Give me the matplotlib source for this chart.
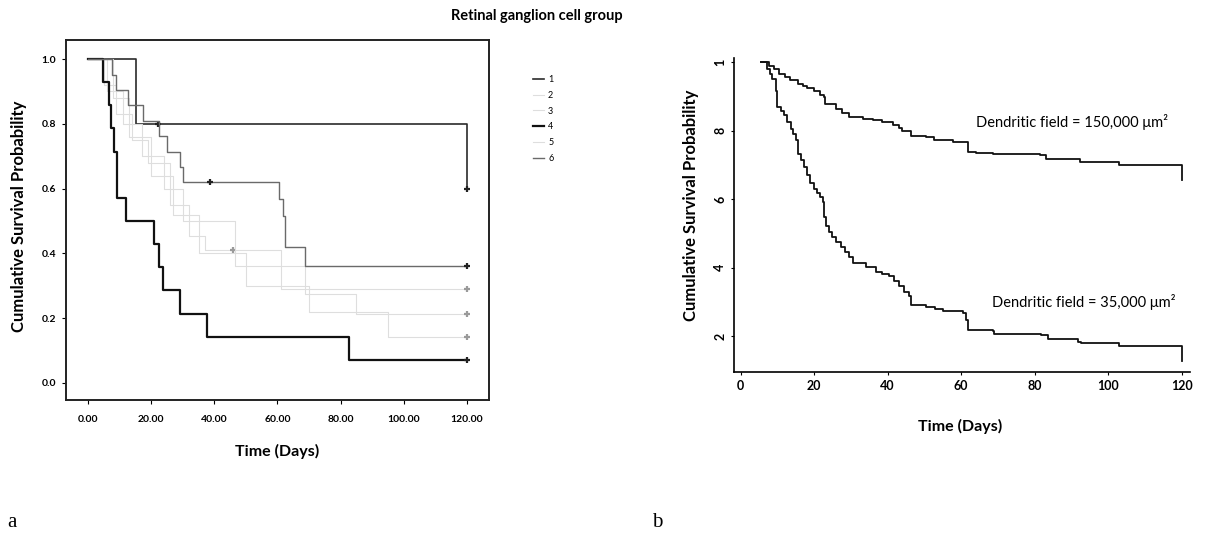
"""Kaplan-Meier survival curves: retinal ganglion cell groups (a) and dendritic field size (b)."""

import matplotlib
matplotlib.use("Agg")
from matplotlib import pyplot as plt
from matplotlib.lines import Line2D

# ---- panel a: six retinal ganglion cell groups (time in days, survival after step)
g1_t = [0, 15.3, 120]
g1_s = [1.0, 0.8, 0.6]
g1_cens_t = [22, 120]
g1_cens_s = [0.8, 0.6]

g2_t = [0, 5, 9, 14, 19, 26, 32, 37, 61, 120]
g2_s = [1.0, 0.92, 0.83, 0.75, 0.68, 0.55, 0.455, 0.41, 0.29, 0.29]
g2_cens_t = [46, 120]
g2_cens_s = [0.41, 0.29]

g3_t = [0, 6, 11, 17, 24, 30, 46.4, 68.7, 85, 120]
g3_s = [1.0, 0.9, 0.8, 0.7, 0.6, 0.5, 0.36, 0.274, 0.213, 0.213]
g3_cens_t = [120]
g3_cens_s = [0.213]

g4_t = [0, 4.7, 6.5, 7.3, 8.3, 9.3, 12, 21, 22.4, 23.7, 29, 37.7, 82.7, 120]
g4_s = [1.0, 0.929, 0.857, 0.786, 0.714, 0.571, 0.5, 0.429, 0.357, 0.286,
        0.214, 0.143, 0.071, 0.071]
g4_cens_t = [120]
g4_cens_s = [0.071]

g5_t = [0, 8, 13, 20, 27, 35, 50, 70, 95, 120]
g5_s = [1.0, 0.88, 0.76, 0.64, 0.52, 0.4, 0.3, 0.22, 0.142, 0.142]
g5_cens_t = [120]
g5_cens_s = [0.142]

g6_t = [0, 7.5, 9, 12.7, 17.5, 22.5, 25, 29, 30, 60.5, 61.8, 62.3, 68.7, 120]
g6_s = [1.0, 0.952, 0.905, 0.857, 0.81, 0.762, 0.714, 0.667, 0.619, 0.567,
        0.516, 0.42, 0.36, 0.36]
g6_cens_t = [38.7, 120]
g6_cens_s = [0.619, 0.36]

group_labels = ["1", "2", "3", "4", "5", "6"]
a_xticks = [0, 20, 40, 60, 80, 100, 120]
a_xticklabels = ["0.00", "20.00", "40.00", "60.00", "80.00", "100.00", "120.00"]
a_yticks = [0.0, 0.2, 0.4, 0.6, 0.8, 1.0]
a_yticklabels = ["0.0", "0.2", "0.4", "0.6", "0.8", "1.0"]

# ---- panel b: dendritic field size
big_t = [5.5, 7.7, 9, 10.5, 12, 13.5, 15.5, 17, 18.2, 20, 21.5, 22.7, 23, 25.9,
         27.5, 29.5, 33.2, 36, 38.6, 41.4, 43, 44, 46.4, 50.5, 52.7, 57.7, 61.8,
         64, 68.6, 81.4, 83.2, 92.3, 103, 120]
big_s = [1.0, 0.99, 0.98, 0.966, 0.957, 0.947, 0.937, 0.93, 0.925, 0.915, 0.905,
         0.898, 0.879, 0.864, 0.852, 0.84, 0.835, 0.83, 0.825, 0.816, 0.808, 0.80,
         0.783, 0.78, 0.772, 0.767, 0.738, 0.735, 0.731, 0.728, 0.716, 0.709,
         0.70, 0.655]

small_t = [5.5, 7.3, 8, 8.6, 9.5, 10, 11, 11.8, 12.7, 13.6, 14.3, 15, 15.5, 16.4,
           17.3, 18.2, 19, 20, 20.9, 21.6, 22.3, 22.7, 23.2, 24, 25, 26, 27.3,
           28.5, 29.5, 30.5, 34, 36.8, 38.5, 40.5, 41.8, 43, 44.5, 45.9, 46.4,
           50.5, 53, 55, 60.5, 61.4, 61.8, 68.6, 69, 81.8, 83.6, 91.8, 92.5, 103,
           120]
small_s = [1.0, 0.98, 0.965, 0.95, 0.917, 0.87, 0.858, 0.845, 0.825, 0.806, 0.79,
           0.772, 0.733, 0.713, 0.694, 0.67, 0.646, 0.63, 0.617, 0.605, 0.592,
           0.549, 0.52, 0.505, 0.49, 0.475, 0.461, 0.445, 0.432, 0.413, 0.403,
           0.388, 0.38, 0.374, 0.36, 0.345, 0.33, 0.316, 0.291, 0.286, 0.28,
           0.272, 0.267, 0.247, 0.218, 0.214, 0.207, 0.204, 0.19, 0.184, 0.18,
           0.17, 0.126]

b_xticks = [0, 20, 40, 60, 80, 100, 120]
b_yticks = [0.2, 0.4, 0.6, 0.8, 1.0]
b_yticklabels = ["2", "4", "6", "8", "1"]

FONT = ["Lato", "DejaVu Sans"]
FAINT = "#dedede"


def main():
    plt.rcParams["font.family"] = FONT
    fig = plt.figure(figsize=(12.06, 5.35), dpi=100)

    # ---------------- panel a
    ax = fig.add_axes([0.0547, 0.2523, 0.3507, 0.6729])
    groups = [
        (g1_t, g1_s, g1_cens_t, g1_cens_s, "#2b2b2b", 1.2),
        (g2_t, g2_s, g2_cens_t, g2_cens_s, FAINT, 0.8),
        (g3_t, g3_s, g3_cens_t, g3_cens_s, FAINT, 0.8),
        (g4_t, g4_s, g4_cens_t, g4_cens_s, "#111111", 1.6),
        (g5_t, g5_s, g5_cens_t, g5_cens_s, FAINT, 0.8),
        (g6_t, g6_s, g6_cens_t, g6_cens_s, "#6a6a6a", 1.0),
    ]
    handles = []
    for t, s, ct, cs, col, lw in groups:
        ax.step(t, s, where="post", color=col, lw=lw)
        ax.plot(ct, cs, ls="none", marker="+", ms=5, mew=1.6,
                color="#222222" if col != FAINT else "#9a9a9a")
        handles.append(Line2D([0], [0], color=col, lw=lw))

    ax.set_xlim(-7, 127)
    ax.set_ylim(-0.053, 1.059)
    ax.set_xticks(a_xticks, labels=a_xticklabels)
    ax.set_yticks(a_yticks, labels=a_yticklabels)
    ax.tick_params(labelsize=7.5, length=3, width=0.8, pad=4)
    ax.tick_params(axis="x", pad=8)
    for lab in ax.get_xticklabels() + ax.get_yticklabels():
        lab.set_fontweight("bold")
    for sp in ax.spines.values():
        sp.set_linewidth(1.4)
        sp.set_color("#222222")
    ax.set_ylabel("Cumulative Survival Probability", fontsize=12, fontweight="bold")
    ax.set_xlabel("Time (Days)", fontsize=11.5, fontweight="bold")
    ax.yaxis.set_label_coords(-0.092, 0.51)
    ax.xaxis.set_label_coords(0.5, -0.122)

    fig.text(0.445, 0.97, "Retinal ganglion cell group", ha="center", va="center",
             fontsize=10.5, fontweight="bold")
    fig.legend(handles, group_labels, loc="upper left",
               bbox_to_anchor=(0.435, 0.875), frameon=False, fontsize=6.5,
               handlelength=1.3, handletextpad=0.4, labelspacing=0.75)

    # ---------------- panel b
    bx = fig.add_axes([0.6086, 0.3047, 0.378, 0.5869])
    bx.step([big_t[0]] + big_t, [1.0] + big_s, where="post", color="#111111", lw=1.3)
    bx.step([small_t[0]] + small_t, [1.0] + small_s, where="post", color="#111111",
            lw=1.3)
    bx.text(64, 0.826, "Dendritic field = 150,000 \u03bcm\u00b2", fontsize=10.5,
            va="center", ha="left")
    bx.text(68.5, 0.298, "Dendritic field = 35,000 \u03bcm\u00b2", fontsize=10.5,
            va="center", ha="left")
    bx.set_xlim(-1.8, 122.2)
    bx.set_ylim(0.095, 1.012)
    bx.set_xticks(b_xticks)
    bx.set_yticks(b_yticks, labels=b_yticklabels)
    for lab in bx.get_yticklabels():
        lab.set_rotation(90)
        lab.set_va("center")
    bx.tick_params(labelsize=9, length=2.5, width=0.8, pad=3)
    for lab in bx.get_xticklabels() + bx.get_yticklabels():
        lab.set_fontweight("bold")
    bx.spines["top"].set_visible(False)
    bx.spines["right"].set_visible(False)
    bx.spines["left"].set_linewidth(1.2)
    bx.spines["bottom"].set_linewidth(1.2)
    bx.set_ylabel("Cumulative Survival Probability", fontsize=12, fontweight="bold")
    bx.set_xlabel("Time (Days)", fontsize=11.5, fontweight="bold")
    bx.yaxis.set_label_coords(-0.077, 0.53)
    bx.xaxis.set_label_coords(0.496, -0.15)

    fig.text(0.006, 0.015, "a", fontsize=15, family="Liberation Serif")
    fig.text(0.541, 0.015, "b", fontsize=15, family="Liberation Serif")

    fig.savefig("out.png", dpi=100)


if __name__ == "__main__":
    main()
